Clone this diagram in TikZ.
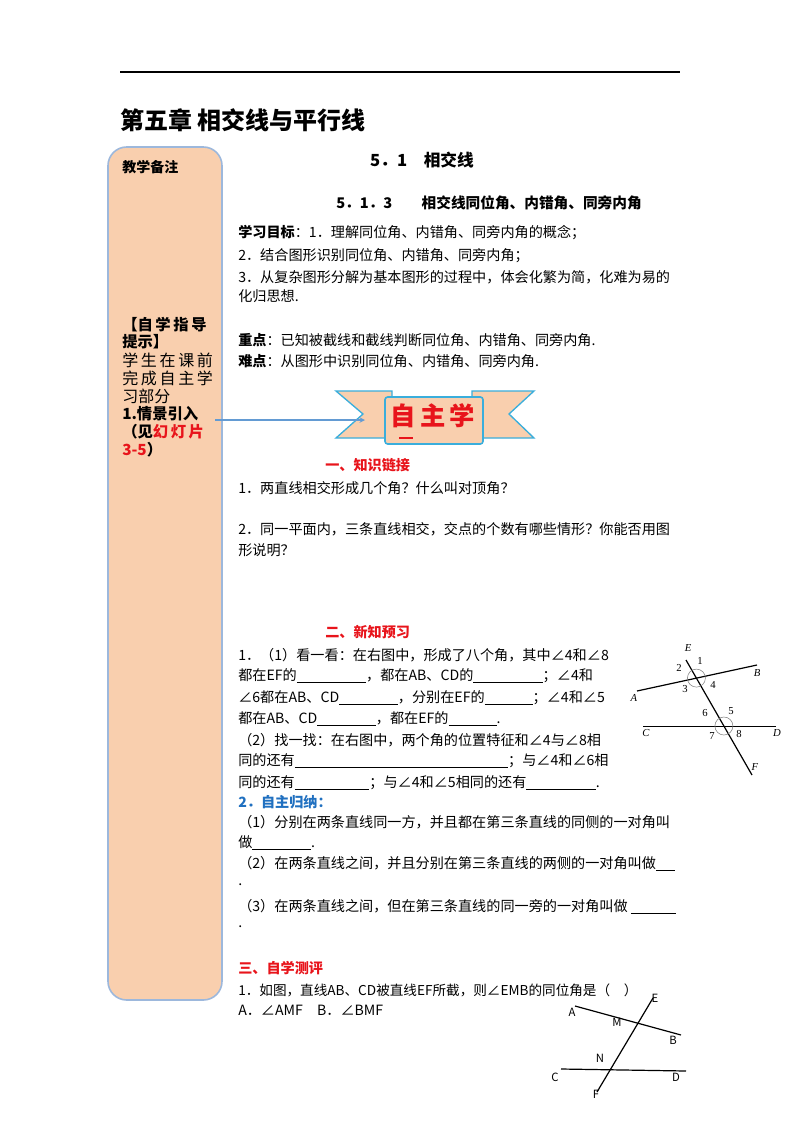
\documentclass[tikz,border=0pt]{standalone}
\usepackage{fontspec}
\setmainfont{Noto Sans CJK SC}
\newfontfamily\serifmix{Liberation Serif}
\newcommand\bl[1]{\underline{\hspace{#1pt}}}
\definecolor{peach}{HTML}{F9CFAE}
\definecolor{sideb}{HTML}{9DB8DC}
\definecolor{ribb}{HTML}{3AAEDC}
\definecolor{hred}{HTML}{E8141B}
\definecolor{hblue}{HTML}{2070C0}
\begin{document}
\begin{tikzpicture}[x=0.75pt,y=-0.75pt,
  tx/.style={anchor=west,inner sep=0pt,font=\fontsize{10.6}{12}\selectfont},
  sd/.style={anchor=west,inner sep=0pt,font=\fontsize{12}{13}\selectfont},
  sdb/.style={anchor=west,inner sep=0pt,font=\fontsize{11.5}{13}\selectfont\bfseries},
  hd/.style={anchor=west,inner sep=0pt,font=\fontsize{10.6}{12}\selectfont\bfseries},
  lab/.style={inner sep=0pt,font=\fontsize{8}{9}\selectfont\itshape\serifmix},
  num/.style={inner sep=0pt,font=\fontsize{8}{9}\selectfont\serifmix},
  lab2/.style={inner sep=0pt,font=\fontsize{8.5}{9}\selectfont},
  ln/.style={line width=0.9pt},
  arc/.style={gray,line width=0.4pt}]
\useasboundingbox (0,0) rectangle (800,1132);
\fill[white] (0,0) rectangle (800,1132);
\coordinate (t1) at (120,72); \coordinate (t2) at (680,72);
\draw[line width=0.8pt] (t1) -- (t2);
\node[anchor=west,inner sep=0pt,font=\fontsize{18}{20}\selectfont\bfseries] (title) at (120,120) {第五章\ 相交线与平行线};
% sidebar
\draw[sideb,fill=peach,line width=1.2pt,rounded corners=14] (108,147) rectangle (222,1000);
\node[anchor=west,inner sep=0pt,font=\fontsize{10.5}{11}\selectfont\bfseries] (bz) at (122,167) {教学备注};
\node[sdb] (s1) at (122,325) {【自\,学\,指\,导};
\node[sdb] (s2) at (122,342) {提示】};
\node[sd] (s3) at (122,360) {学\,生\,在\,课\,前};
\node[sd] (s4) at (122,378) {完\,成\,自\,主\,学};
\node[sd] (s5) at (122,396) {习部分};
\node[sdb] (s6) at (122,414) {1.情景引入};
\node[sdb] (s7) at (122,432) {（见\textcolor{hred}{幻\,灯\,片}};
\node[sdb] (s8) at (122,450) {\textcolor{hred}{3-5}）};
% banner
\draw[ribb,fill=peach,line width=1pt] (336,391) -- (392,391) -- (392,438) -- (336,438) -- (363,414) -- cycle;
\draw[ribb,fill=peach,line width=1pt] (472,391) -- (534,391) -- (509,414) -- (534,438) -- (472,438) -- cycle;
\draw[ribb,fill=peach,line width=1.2pt,rounded corners=2] (385,397) rectangle (483,444);
\node[inner sep=0pt,text=hred,font=\fontsize{19}{20}\selectfont\bfseries] (zzx) at (433,416) {自\,主\,学};
\draw[hred,line width=1.3pt] (399,438) -- (413,438);
\coordinate (arA) at (215,420); \coordinate (arB) at (365,420);
\draw[hblue!70,line width=0.8pt,-stealth] (arA) -- (arB);
% headings
\node[inner sep=0pt,font=\fontsize{12.5}{14}\selectfont\bfseries] (h1) at (422,160) {5．1\quad 相交线};
\node[anchor=west,inner sep=0pt,font=\fontsize{11}{12}\selectfont\bfseries] (h2) at (336,203) {5．1．3\qquad 相交线同位角、内错角、同旁内角};
\node[tx] (l1) at (238,233) {\textbf{学习目标}：1．理解同位角、内错角、同旁内角的概念；};
\node[tx] (l2) at (238,256) {2．结合图形识别同位角、内错角、同旁内角；};
\node[tx] (l3) at (238,277) {3．从复杂图形分解为基本图形的过程中，体会化繁为简，化难为易的};
\node[tx] (l4) at (238,296) {化归思想.};
\node[tx] (l5) at (238,340) {\textbf{重点}：已知被截线和截线判断同位角、内错角、同旁内角.};
\node[tx] (l6) at (238,361) {\textbf{难点}：从图形中识别同位角、内错角、同旁内角.};
\node[hd,text=hred] (k1) at (325,465) {一、知识链接};
\node[tx] (k2) at (238,488) {1．两直线相交形成几个角？什么叫对顶角？};
\node[tx] (k3) at (238,529) {2．同一平面内，三条直线相交，交点的个数有哪些情形？你能否用图};
\node[tx] (k4) at (238,550) {形说明？};
\node[hd,text=hred] (n1) at (325,632) {二、新知预习};
\node[tx] (n2) at (238,655) {1．（1）看一看：在右图中，形成了八个角，其中∠4和∠8};
\node[tx] (n3) at (238,676) {都在EF的\bl{52}，都在AB、CD的\bl{52}；∠4和};
\node[tx] (n4) at (238,698) {∠6都在AB、CD\bl{44}，分别在EF的\bl{36}；∠4和∠5};
\node[tx] (n5) at (238,719) {都在AB、CD\bl{44}，都在EF的\bl{36}.};
\node[tx] (n6) at (238,740) {（2）找一找：在右图中，两个角的位置特征和∠4与∠8相};
\node[tx] (n7) at (238,761) {同的还有\bl{160}；与∠4和∠6相};
\node[tx] (n8) at (238,783) {同的还有\bl{56}；与∠4和∠5相同的还有\bl{52}.};
\node[hd,text=hblue] (g1) at (238,802) {2．自主归纳：};
\node[tx] (g2) at (238,822) {（1）分别在两条直线同一方，并且都在第三条直线的同侧的一对角叫};
\node[tx] (g3) at (238,843) {做\bl{44}.};
\node[tx] (g4) at (238,864) {（2）在两条直线之间，并且分别在第三条直线的两侧的一对角叫做\bl{14}};
\node[tx] (g5) at (238,885) {.};
\node[tx] (g6) at (238,907) {（3）在两条直线之间，但在第三条直线的同一旁的一对角叫做\ \bl{34}};
\node[tx] (g7) at (238,927) {.};
\node[hd,text=hred] (c1) at (238,968) {三、自学测评};
\node[tx,font=\fontsize{10.2}{12}\selectfont] (c2) at (238,990) {1．如图，直线AB、CD被直线EF所截，则∠EMB的同位角是（\quad）};
\node[tx] (c3) at (238,1010) {A．∠AMF\quad B．∠BMF};
% figure 1
\coordinate (E1) at (686,660); \coordinate (F1) at (752,775);
\coordinate (A1) at (637,691); \coordinate (B1) at (757,665);
\coordinate (C1) at (643,726); \coordinate (D1) at (776,726);
\draw[ln] (E1) -- (F1); \draw[ln] (A1) -- (B1); \draw[line width=0.6pt] (C1) -- (D1);
\draw[arc] (696.4,678.1) circle (9); \draw[arc] (723.9,726) circle (9);
\node[lab] (la) at (634,698) {A}; \node[lab] (lb) at (757,673) {B};
\node[lab] (lc) at (646,733) {C}; \node[lab] (ld) at (777,733) {D};
\node[lab] (le) at (688,648) {E}; \node[lab] (lf) at (755,767) {F};
\node[num] (a1) at (700,661) {1};
\node[num] (a2) at (679,668) {2};
\node[num] (a3) at (685,689) {3};
\node[num] (a4) at (713,685) {4};
\node[num] (a6) at (705,713) {6};
\node[num] (a5) at (731,711) {5};
\node[num] (a7) at (712,736) {7};
\node[num] (a8) at (739,734) {8};
% figure 2
\coordinate (E2) at (653,998); \coordinate (F2) at (597,1092);
\coordinate (A2) at (575,1006); \coordinate (B2) at (681,1035);
\coordinate (C2) at (561,1069); \coordinate (D2) at (686,1071);
\draw[ln] (E2) -- (F2); \draw[ln] (A2) -- (B2); \draw[ln] (C2) -- (D2);
\node[lab2] (pa) at (572,1012) {A}; \node[lab2] (pm) at (617,1022) {M};
\node[lab2] (pb) at (673,1040) {B}; \node[lab2] (pn) at (600,1058) {N};
\node[lab2] (pc) at (555,1077) {C}; \node[lab2] (pd) at (676,1077) {D};
\node[lab2] (pe) at (655,998) {E}; \node[lab2] (pf) at (596,1094) {F};
\end{tikzpicture}
\end{document}
